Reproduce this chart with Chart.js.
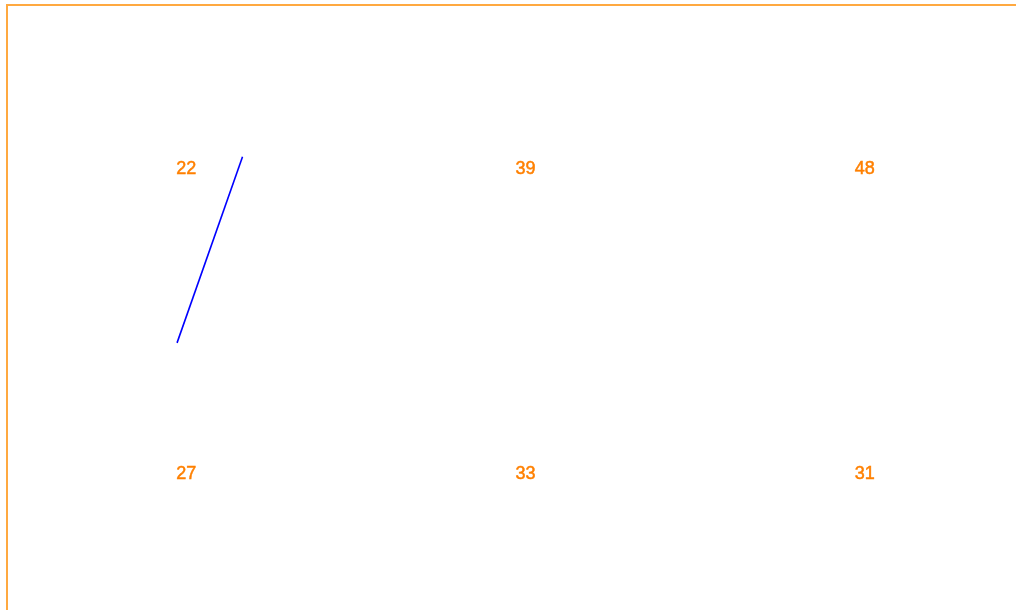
<!DOCTYPE html>
<html>
<head>
<meta charset="utf-8">
<script src="https://cdn.jsdelivr.net/npm/chart.js@4/dist/chart.umd.min.js"></script>
<style>
  html, body { margin: 0; padding: 0; background: #fff; overflow: hidden; width: 1016px; height: 610px; }
  #frame { position: absolute; left: 6px; top: 4px; width: 1200px; height: 800px;
           border-left: 2px solid rgba(255,140,0,0.75); border-top: 2px solid rgba(255,140,0,0.75); }
  #wrap { position: absolute; left: 0; top: 0; width: 1016px; height: 610px; }
</style>
</head>
<body>
<div id="frame"></div>
<div id="wrap"><canvas id="c" width="1016" height="610"></canvas></div>
<script>
// Grid of value labels: 3 columns x 2 rows
const columns = [0, 1, 2];
const rows = [0, 1];
const topRowValues = [22, 39, 48];
const bottomRowValues = [27, 33, 31];

// Blue line series (x, y in grid units)
const lineX = [-0.027, 0.166];
const lineY = [0.575, -0.035];

const valueGrid = [topRowValues, bottomRowValues];

const labelPlugin = {
  id: 'gridLabels',
  afterDatasetsDraw(chart) {
    const { ctx, scales } = chart;
    ctx.save();
    ctx.fillStyle = '#ff8000';
    ctx.strokeStyle = '#ff8000';
    ctx.lineWidth = 0.5;
    ctx.font = '18px "Liberation Sans", Arial, sans-serif';
    ctx.textAlign = 'center';
    ctx.textBaseline = 'middle';
    rows.forEach((r, ri) => {
      columns.forEach((c, ci) => {
        const px = scales.x.getPixelForValue(c);
        const py = scales.y.getPixelForValue(r) + 1.5;
        const t = String(valueGrid[ri][ci]);
        ctx.fillText(t, px, py);
        ctx.strokeText(t, px, py);
      });
    });
    ctx.restore();
  }
};

const xUnit = 339.3, yUnit = 305;
const xMin = -186.2 / xUnit, yMin = -167.5 / yUnit;

new Chart(document.getElementById('c'), {
  type: 'scatter',
  data: {
    datasets: [{
      data: lineX.map((x, i) => ({ x, y: lineY[i] })),
      showLine: true,
      borderColor: '#0000ff',
      borderWidth: 1.6,
      pointRadius: 0,
      tension: 0
    }]
  },
  options: {
    responsive: false,
    animation: false,
    events: [],
    layout: { padding: 0 },
    plugins: { legend: { display: false }, tooltip: { enabled: false } },
    scales: {
      x: { type: 'linear', display: false, min: xMin, max: xMin + 1016 / xUnit },
      y: { type: 'linear', display: false, reverse: true, min: yMin, max: yMin + 610 / yUnit }
    }
  },
  plugins: [labelPlugin]
});
</script>
</body>
</html>
